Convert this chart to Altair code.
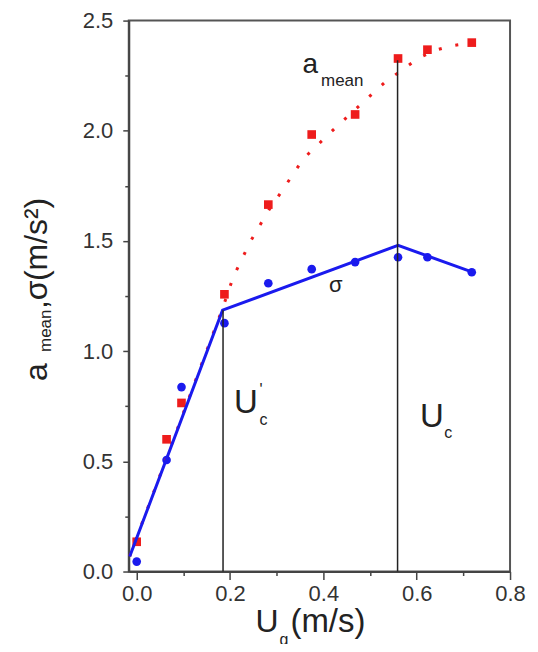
import altair as alt
import pandas as pd

# ---- data ----
ug = [0.0, 0.064, 0.096, 0.188, 0.282, 0.375, 0.468, 0.560, 0.623, 0.718]
a_mean = [0.135, 0.60, 0.765, 1.258, 1.665, 1.983, 2.074, 2.328, 2.368, 2.40]
sigma = [0.045, 0.506, 0.837, 1.127, 1.308, 1.372, 1.404, 1.426, 1.426, 1.358]

# piecewise linear fit of sigma
sig_fit_x = [-0.015, 0.184, 0.560, 0.718]
sig_fit_y = [0.068, 1.186, 1.48, 1.36]

# dotted guide line for a_mean
a_fit_x = [-0.015, 0.185, 0.207, 0.243, 0.283, 0.309, 0.357, 0.429, 0.493, 0.532, 0.604, 0.643, 0.675, 0.718]
a_fit_y = [0.07, 1.20, 1.337, 1.495, 1.64, 1.72, 1.873, 2.02, 2.145, 2.22, 2.33, 2.367, 2.386, 2.40]

# critical velocities (vertical markers) and their top ends
uc_x = [0.185, 0.559]
uc_top = [1.186, 2.32]

x_major = [0.0, 0.2, 0.4, 0.6, 0.8]
x_minor = [0.1, 0.3, 0.5, 0.7]
y_major = [0.0, 0.5, 1.0, 1.5, 2.0, 2.5]
y_minor = [0.25, 0.75, 1.25, 1.75, 2.25]

FONT = "Liberation Sans"
AX = "#444444"
RED = "#ee1c1c"
BLUE = "#1a1aee"

pts = pd.DataFrame({"ug": ug, "a": a_mean, "s": sigma})
sfit = pd.DataFrame({"x": sig_fit_x, "y": sig_fit_y})
afit = pd.DataFrame({"x": a_fit_x, "y": a_fit_y})
rules = pd.DataFrame({"x": uc_x, "top": uc_top})

xs = alt.Scale(domain=[-0.017, 0.8], nice=False, zero=False)
ys = alt.Scale(domain=[0, 2.5], nice=False, zero=False)

major_x = alt.Axis(values=x_major, format=".1f", orient="bottom", title=None, grid=False,
                   tickSize=8, tickWidth=1.5, tickColor=AX, domainColor=AX, domainWidth=2,
                   labelFontSize=22, labelFont=FONT, labelColor="#333333", labelPadding=4,
                   labelFlush=False, labelOverlap=False)
major_y = alt.Axis(values=y_major, format=".1f", orient="left", title=None, grid=False,
                   tickSize=6, tickWidth=1.5, tickColor=AX, domainColor=AX, domainWidth=2,
                   labelFontSize=22, labelFont=FONT, labelColor="#333333", labelPadding=10,
                   labelFlush=False, labelOverlap=False)
minor_x = alt.Axis(values=x_minor, orient="bottom", title=None, grid=False, labels=False,
                   tickSize=4, tickWidth=1.5, tickColor=AX, domain=False)
minor_y = alt.Axis(values=y_minor, orient="left", title=None, grid=False, labels=False,
                   tickSize=4, tickWidth=1.5, tickColor=AX, domain=False)

red_pts = alt.Chart(pts).mark_point(shape="square", filled=True, size=75, color=RED, opacity=1).encode(
    x=alt.X("ug:Q", scale=xs, axis=major_x),
    y=alt.Y("a:Q", scale=ys, axis=major_y),
)
blue_pts = alt.Chart(pts).mark_point(shape="circle", filled=True, size=75, color=BLUE, opacity=1).encode(
    x=alt.X("ug:Q", scale=xs, axis=minor_x),
    y=alt.Y("s:Q", scale=ys, axis=minor_y),
)
a_line = alt.Chart(afit).mark_line(color=RED, strokeWidth=3, strokeDash=[3, 14]).encode(
    x=alt.X("x:Q", scale=xs, axis=None),
    y=alt.Y("y:Q", scale=ys, axis=None),
)
s_line = alt.Chart(sfit).mark_line(color=BLUE, strokeWidth=3).encode(
    x=alt.X("x:Q", scale=xs, axis=None),
    y=alt.Y("y:Q", scale=ys, axis=None),
)
vrules = alt.Chart(rules).mark_rule(color="#222222", strokeWidth=1.5).encode(
    x=alt.X("x:Q", scale=xs, axis=None),
    y=alt.Y("top:Q", scale=ys, axis=None),
    y2=alt.datum(0),
)


def dtext(txt, xv, yv, size):
    return alt.Chart(alt.Data(values=[{}])).mark_text(
        text=txt, fontSize=size, font=FONT, align="left", baseline="alphabetic", color="#222222"
    ).encode(
        x=alt.XDatum(xv, axis=None),
        y=alt.YDatum(yv, axis=None),
    )


def ptext(txt, px, py, size, angle=0):
    return alt.Chart(alt.Data(values=[{}])).mark_text(
        text=txt, fontSize=size, font=FONT, align="left", baseline="alphabetic",
        color="#222222", angle=angle
    ).encode(x=alt.value(px), y=alt.value(py))


annots = [
    dtext("a", 0.3553, 2.263, 28),
    dtext("mean", 0.395, 2.205, 17),
    dtext("σ", 0.412, 1.269, 22),
    dtext("U", 0.2085, 0.718, 33),
    dtext("'", 0.263, 0.80, 16),
    dtext("c", 0.263, 0.665, 16),
    dtext("U", 0.607, 0.657, 33),
    dtext("c", 0.659, 0.606, 16),
    # x-axis title
    ptext("U", 127, 613, 32),
    ptext("g", 151, 626, 16),
    ptext("(m/s)", 162, 613, 33),
    # y-axis title (rotated)
    ptext("a", -82, 361, 32, 270),
    ptext("mean", -78, 332, 17, 270),
    ptext(",σ", -82, 289, 32, 270),
    ptext("(m/s²)", -82, 261, 32, 270),
]

chart = alt.layer(red_pts, blue_pts, a_line, s_line, vrules, *annots).resolve_axis(
    x="independent", y="independent"
).properties(
    width=382, height=552,
    autosize=alt.AutoSizeParams(type="none"),
    padding={"left": 121, "top": 12, "right": 20, "bottom": 72},
).configure_view(stroke="#555555", strokeWidth=2)

chart.save("out.html", embed_options={"renderer": "svg", "actions": False})
